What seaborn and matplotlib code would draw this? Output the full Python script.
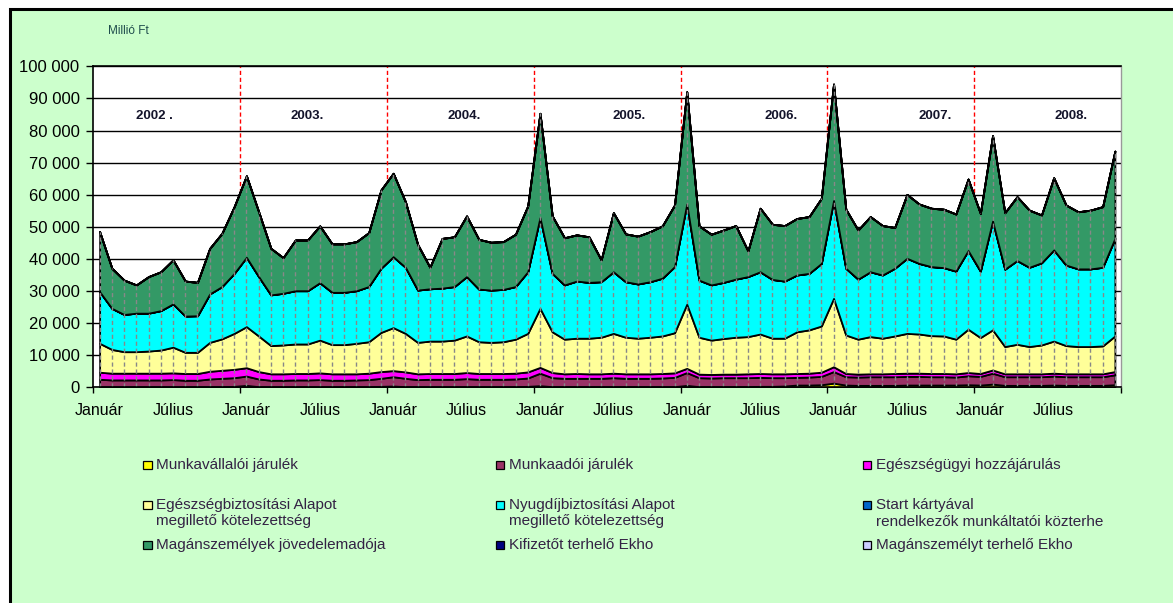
import numpy as np
import matplotlib
matplotlib.use("Agg")
import matplotlib.pyplot as plt
from matplotlib.patches import Rectangle
from matplotlib.ticker import FuncFormatter
import seaborn as sns

# havi adatok, Millió Ft, 2002 január - 2008 december
munkavallaloi = [
    200, 200, 200, 200, 200, 200, 200, 200, 200, 200, 200, 300,
    600, 200, 200, 200, 200, 200, 200, 200, 200, 200, 200, 300,
    400, 200, 200, 200, 200, 200, 200, 200, 200, 200, 200, 300,
    500, 200, 200, 200, 200, 200, 200, 200, 200, 200, 200, 200,
    600, 200, 200, 200, 200, 200, 300, 300, 400, 700, 700, 800,
    1300, 700, 600, 600, 600, 600, 700, 700, 700, 700, 700, 800,
    700, 1000, 600, 600, 600, 600, 700, 600, 600, 600, 600, 800,
]
munkaadoi = [
    2300, 2100, 2100, 2100, 2100, 2100, 2200, 2000, 2000, 2400, 2600, 2700,
    2900, 2400, 2000, 2000, 2100, 2100, 2200, 2000, 2000, 2100, 2200, 2500,
    2900, 2600, 2200, 2300, 2300, 2300, 2500, 2300, 2300, 2300, 2400, 2600,
    3900, 2800, 2600, 2600, 2600, 2600, 2800, 2600, 2600, 2600, 2700, 2900,
    4000, 2800, 2700, 2800, 2800, 2800, 2800, 2700, 2600, 2400, 2500, 2600,
    3600, 2600, 2600, 2700, 2700, 2700, 2700, 2700, 2600, 2600, 2500, 2800,
    2700, 3400, 2700, 2700, 2700, 2700, 2800, 2700, 2700, 2700, 2700, 3100,
]
egeszsegugyi = [
    2200, 2100, 2100, 2100, 2100, 2100, 2100, 2100, 2100, 2400, 2500, 2600,
    2600, 2300, 2000, 2000, 2000, 2000, 2100, 2000, 2000, 1900, 2000, 2100,
    1900, 2000, 1800, 1800, 1800, 1800, 1900, 1800, 1800, 1800, 1800, 1900,
    1800, 1600, 1400, 1500, 1400, 1400, 1400, 1400, 1400, 1400, 1400, 1400,
    1300, 1100, 1100, 1100, 1100, 1200, 1200, 1200, 1200, 1200, 1200, 1300,
    1500, 1000, 900, 900, 900, 1000, 1000, 1000, 1000, 1000, 1000, 1000,
    900, 1000, 900, 900, 900, 900, 900, 900, 900, 900, 900, 1000,
]
eb_alap = [
    9000, 7400, 6700, 6700, 6900, 7200, 8000, 6600, 6600, 9000, 9800, 11200,
    12800, 11100, 8800, 9000, 9200, 9200, 10200, 9100, 9100, 9500, 9800, 12200,
    13400, 12000, 9800, 10100, 10100, 10400, 11400, 9900, 9700, 9900, 10600, 12000,
    18400, 12700, 10800, 11000, 11100, 11400, 12400, 11400, 11100, 11400, 11700, 12500,
    20000, 11500, 10700, 11100, 11500, 11600, 12300, 11100, 11100, 13000, 13500, 14400,
    21300, 12000, 10900, 11600, 11100, 11700, 12400, 12200, 11800, 11700, 10800, 13500,
    11200, 12500, 8500, 9200, 8500, 9000, 10000, 8800, 8500, 8500, 8700, 11100,
]
ny_alap = [
    16100, 12800, 11600, 12000, 11800, 12300, 13500, 11300, 11400, 15100, 16300, 18700,
    21600, 18500, 15800, 16100, 16600, 16600, 17900, 16300, 16300, 16400, 17200, 20000,
    22100, 20600, 16300, 16300, 16500, 16700, 18500, 16400, 16300, 16300, 16400, 19200,
    28300, 18200, 16900, 17800, 17400, 17300, 19200, 17300, 16900, 17300, 18000, 20600,
    31200, 17800, 17200, 17500, 18100, 18700, 19400, 18300, 17800, 17700, 17600, 19500,
    30500, 20800, 18700, 20200, 19700, 21100, 23400, 22000, 21500, 21300, 21200, 24500,
    20700, 33900, 24100, 26100, 24700, 25600, 28400, 25100, 24200, 24200, 24500, 30400,
]
start_kartya = [0] * 84
szja = [
    18700, 12500, 10700, 8800, 11400, 12100, 13700, 10900, 10400, 14200, 16600, 20800,
    25400, 20200, 14500, 11100, 15800, 15800, 17700, 15100, 15100, 15300, 16800, 24400,
    26000, 20400, 14200, 6700, 15500, 15500, 18900, 15500, 14900, 14900, 16300, 20500,
    32500, 17900, 14700, 14400, 14200, 6800, 18400, 14900, 14900, 15600, 16300, 19200,
    35000, 16900, 15800, 16300, 16700, 8000, 19800, 17200, 17300, 17600, 17700, 20300,
    36300, 18400, 15300, 17200, 15400, 12700, 19900, 18500, 18200, 18200, 17800, 22300,
    18000, 26600, 17600, 19900, 17800, 14900, 22500, 18700, 17800, 18300, 18900, 27200,
]
ekho_kifizeto = [0] * 84
ekho_maganszemely = [0] * 84

years = ["2002 .", "2003.", "2004.", "2005.", "2006.", "2007.", "2008."]
year_label_pos = [4.5, 17.0, 29.8, 43.3, 55.7, 68.3, 79.4]
month_labels = ["Január", "Július"]

series_names = [
    "Munkavállalói járulék",
    "Munkaadói járulék",
    "Egészségügyi hozzájárulás",
    "Egészségbiztosítási Alapot\nmegillető kötelezettség",
    "Nyugdíjbiztosítási Alapot\nmegillető kötelezettség",
    "Start kártyával\nrendelkezők munkáltatói közterhe",
    "Magánszemélyek jövedelemadója",
    "Kifizetőt terhelő Ekho",
    "Magánszemélyt terhelő Ekho",
]
series = [munkavallaloi, munkaadoi, egeszsegugyi, eb_alap, ny_alap,
          start_kartya, szja, ekho_kifizeto, ekho_maganszemely]
colors = ["#FFFF00", "#993366", "#FF00FF", "#FFFF99", "#00FFFF",
          "#0066CC", "#339966", "#000080", "#CCCCFF"]

sns.set_theme(style="white")
plt.rcParams["font.family"] = ["Liberation Sans", "DejaVu Sans"]

W, H = 1173, 603
fig = plt.figure(figsize=(W / 100, H / 100), dpi=100)
fig.patch.set_facecolor("white")

# zöld háttér fekete kerettel
fig.add_artist(Rectangle((9.5 / W, -0.1), 1.2, 1.1 - 9.5 / H,
                         transform=fig.transFigure, facecolor="#CCFFCC",
                         edgecolor="black", linewidth=2.2, zorder=-10))

ax = fig.add_axes([93.5 / W, (H - 387.3) / H, (1121 - 93.5) / W, (387.3 - 66.4) / H])
ax.set_facecolor("white")

months = np.arange(len(munkavallaloi))
ax.stackplot(months, *series, colors=colors, edgecolor="black",
             linewidth=1.3, zorder=2)

totals = np.sum(np.array(series), axis=0)
ax.vlines(months, 0, totals, colors="#888888", linestyles=(0, (3, 2)),
          linewidth=1, zorder=2.2)

for b in range(12, 84, 12):
    ax.axvline(b - 0.5, color="red", linestyle=(0, (3, 2)), linewidth=1, zorder=1.5)

ax.set_xlim(-0.5, 83.5)
ax.set_ylim(0, 100000)
ax.set_axisbelow(True)
ax.yaxis.grid(True, color="black", linewidth=1)
ax.xaxis.grid(False)

ax.set_yticks(range(0, 100001, 10000))
ax.yaxis.set_major_formatter(FuncFormatter(lambda v, p: f"{int(v):,}".replace(",", " ")))
ax.tick_params(axis="y", left=True, length=5, width=1, color="black",
               pad=5, labelsize=12, labelcolor="black")

ax.set_xticks(np.arange(-0.5, 84, 12))
ax.set_xticklabels([])
ax.set_xticks(np.arange(0, 84, 6), minor=True)
ax.set_xticklabels(month_labels * 7, minor=True)
ax.tick_params(axis="x", which="major", bottom=True, length=4, width=1, color="black")
ax.tick_params(axis="x", which="minor", bottom=True, length=0, pad=11,
               labelsize=11.5, labelcolor="black")

for side in ["left", "bottom", "top"]:
    ax.spines[side].set_color("black")
    ax.spines[side].set_linewidth(1.2)
ax.spines["right"].set_color("#999999")
ax.spines["right"].set_linewidth(1)

for label, xpos in zip(years, year_label_pos):
    ax.text(xpos, 84500, label, ha="center", va="center", fontsize=9.5,
            fontweight="bold", color="#14142b", zorder=5)

fig.text(108 / W, 1 - 31 / H, "Millió Ft", ha="left", va="center",
         fontsize=8.5, color="#1f4d4d")

# jelmagyarázat három oszlopban
col_marker = [147.5, 500, 867]
col_text = [156, 509, 876]
row_y = [465, 505, 545]
for k, (name, col) in enumerate(zip(series_names, colors)):
    r, c = divmod(k, 3)
    y = row_y[r]
    fig.add_artist(Rectangle(((col_marker[c] - 4.2) / W, 1 - (y + 4.2) / H),
                             8.4 / W, 8.4 / H, transform=fig.transFigure,
                             facecolor=col, edgecolor="black", linewidth=0.9))
    for j, line in enumerate(name.split("\n")):
        fig.text(col_text[c] / W, 1 - (y + 16.5 * j) / H, line, ha="left",
                 va="center", fontsize=11, color="#332244")

fig.savefig("out.png", dpi=100)
